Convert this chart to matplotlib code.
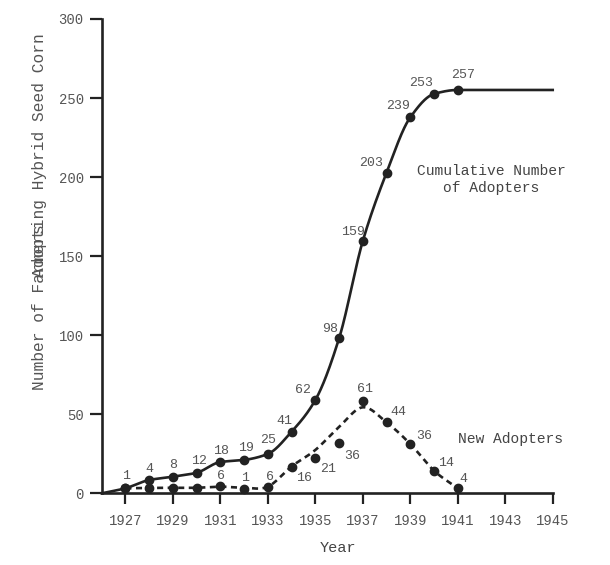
import matplotlib
matplotlib.use("Agg")
import matplotlib.pyplot as plt
import numpy as np

# --- data ---
years = [1927, 1928, 1929, 1930, 1931, 1932, 1933, 1934,
         1935, 1936, 1937, 1938, 1939, 1940, 1941]

# cumulative adopters (marker heights) and the printed labels
cumulative = [3.2, 8.4, 10.5, 13.0, 19.8, 21.1, 24.9, 39.0,
              59.0, 98.0, 159.6, 202.8, 237.8, 252.6, 255.1]
cumulative_labels = ["1", "4", "8", "12", "18", "19", "25", "41",
                     "62", "98", "159", "203", "239", "253", "257"]

# new adopters per year (marker heights), printed labels and the dashed trend
new_adopters = [3.2, 3.2, 3.2, 3.2, 4.6, 2.7, 4.2, 16.8,
                22.5, 31.6, 58.4, 44.9, 31.2, 14.3, 3.2]
new_labels = ["", "", "", "", "6", "1", "6", "16",
              "21", "36", "61", "44", "36", "14", "4"]
new_trend = [3.2, 3.4, 3.5, 3.5, 4.2, 3.5, 4.2, 17.0,
             27.4, 42.0, 54.4, 44.9, 31.2, 14.3, 3.2]

x_ticks = [1927, 1929, 1931, 1933, 1935, 1937, 1939, 1941, 1943, 1945]
y_ticks = [0, 50, 100, 150, 200, 250, 300]

# label offsets in pixels (dx, dy) relative to each marker
cum_offsets = [(1, 12), (0, 11), (0, 12), (2, 12), (1, 11), (2, 12), (0, 14),
               (-7, 11), (-12, 10), (-9, 9), (-10, 9), (-15, 10), (-12, 11),
               (-13, 11), (5, 15)]
new_offsets = [(0, 0), (0, 0), (0, 0), (0, 0), (1, 10), (1, 11), (2, 10),
               (12, -11), (13, -11), (13, -13), (2, 12), (12, 10), (14, 8),
               (12, 8), (6, 9)]

FONT = "Liberation Mono"
DARK = "#222222"
GRAY = "#555555"


def pchip(x, y, xs):
    """Monotone cubic (Fritsch-Carlson) curve through the points."""
    x = np.asarray(x, float)
    y = np.asarray(y, float)
    h = np.diff(x)
    d = np.diff(y) / h
    m = np.zeros_like(y)
    m[0], m[-1] = d[0], d[-1]
    for k in range(1, len(x) - 1):
        if d[k - 1] * d[k] <= 0:
            m[k] = 0.0
        else:
            w1 = 2 * h[k] + h[k - 1]
            w2 = h[k] + 2 * h[k - 1]
            m[k] = (w1 + w2) / (w1 / d[k - 1] + w2 / d[k])
    return hermite(x, y, m, xs)


def catmull(x, y, xs):
    """Catmull-Rom curve through the points (rounder peaks)."""
    x = np.asarray(x, float)
    y = np.asarray(y, float)
    m = np.gradient(y, x)
    return hermite(x, y, m, xs)


def hermite(x, y, m, xs):
    h = np.diff(x)
    idx = np.clip(np.searchsorted(x, xs) - 1, 0, len(x) - 2)
    t = (xs - x[idx]) / h[idx]
    h00 = 2 * t**3 - 3 * t**2 + 1
    h10 = t**3 - 2 * t**2 + t
    h01 = -2 * t**3 + 3 * t**2
    h11 = t**3 - t**2
    return (h00 * y[idx] + h10 * h[idx] * m[idx]
            + h01 * y[idx + 1] + h11 * h[idx] * m[idx + 1])


fig = plt.figure(figsize=(6.1, 5.65), dpi=100)
ax = fig.add_axes([0.1667, 0.1269, 0.9061 - 0.1667, 0.9664 - 0.1269])
x0, x1 = 1926, 1945
ax.set_xlim(x0, x1)
ax.set_ylim(0, 300)

# cumulative curve: from the origin, through the points, flat to the end
cx = [x0] + years + [x1]
cy = [0] + cumulative + [cumulative[-1]]
xs = np.linspace(x0, x1, 800)
ax.plot(xs, pchip(cx, cy, xs), color=DARK, lw=1.9, clip_on=False, zorder=3)
ax.plot(years, cumulative, "o", color=DARK, ms=6, zorder=4, clip_on=False)

# new adopters trend (dashed) and markers
xs2 = np.linspace(years[0], years[-1], 600)
ax.plot(xs2, catmull(years, new_trend, xs2), color=DARK, lw=1.9,
        dashes=(2.3, 1.7), zorder=3)
ax.plot(years, new_adopters, "o", color=DARK, ms=6, zorder=4, clip_on=False)

for yr, v, lab, (dx, dy) in zip(years, cumulative, cumulative_labels, cum_offsets):
    ax.annotate(lab, (yr, v), xytext=(dx, dy), textcoords="offset pixels",
                ha="center", va="center", fontsize=9.5, family=FONT, color=GRAY)
for yr, v, lab, (dx, dy) in zip(years, new_adopters, new_labels, new_offsets):
    if lab:
        ax.annotate(lab, (yr, v), xytext=(dx, dy), textcoords="offset pixels",
                    ha="center", va="center", fontsize=9.5, family=FONT, color=GRAY)

ax.text(1942.42, 198.5, "Cumulative Number\nof Adopters", ha="center",
        va="center", multialignment="center", linespacing=1.2,
        fontsize=10.5, family=FONT, color="#444444")
ax.text(1941.0, 34.6, "New Adopters", ha="left", va="center",
        fontsize=10.5, family=FONT, color="#444444")

# axes styling
for side in ("top", "right"):
    ax.spines[side].set_visible(False)
for side in ("left", "bottom"):
    ax.spines[side].set_linewidth(1.9)
    ax.spines[side].set_color(DARK)
ax.set_xticks(x_ticks)
ax.set_yticks(y_ticks)
ax.tick_params(axis="x", length=8, width=1.6, color=DARK, pad=7,
               labelsize=10, labelcolor=GRAY)
ax.tick_params(axis="y", length=9, width=1.6, color=DARK, pad=4,
               labelsize=10, labelcolor=GRAY)
for lab in ax.get_xticklabels() + ax.get_yticklabels():
    lab.set_family(FONT)

ax.set_xlabel("Year", family=FONT, fontsize=11, color="#444444")
ax.xaxis.set_label_coords(0.524, -0.10)

# the y label prints as two overlapping pieces in the reference
fig.text(40 / 610, 1 - 390 / 565, "Number of Farmers", rotation=90,
         ha="center", va="bottom", family=FONT, fontsize=11.7, color=GRAY)
fig.text(40 / 610, 1 - 277 / 565, "Adopting Hybrid Seed Corn", rotation=90,
         ha="center", va="bottom", family=FONT, fontsize=11.7, color=GRAY)

fig.savefig("out.png", dpi=100)
